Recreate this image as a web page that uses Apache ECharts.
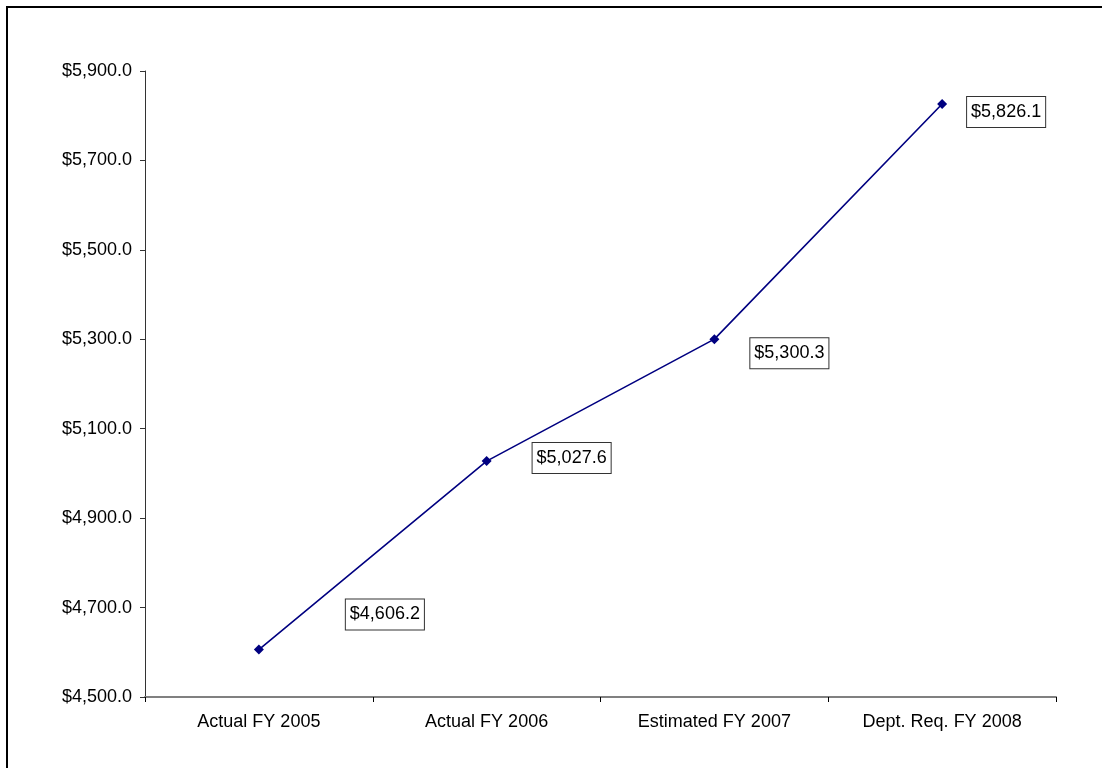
<!DOCTYPE html>
<html>
<head>
<meta charset="utf-8">
<script src="https://cdn.jsdelivr.net/npm/echarts@6/dist/echarts.min.js"></script>
<style>
  html, body { margin: 0; padding: 0; background: #fff; overflow: hidden; }
  #frame { position: absolute; left: 6px; top: 6px; width: 1200px; height: 900px;
           border-left: 2px solid #000; border-top: 2px solid #000; box-sizing: border-box; }
  #chart { position: absolute; left: 0; top: 0; width: 1102px; height: 768px; }
</style>
</head>
<body>
<div id="frame"></div>
<div id="chart"></div>
<script>
// Budget by fiscal year (millions of dollars)
const categories = ['Actual FY 2005', 'Actual FY 2006', 'Estimated FY 2007', 'Dept. Req. FY 2008'];
const amounts = [4606.2, 5027.6, 5300.3, 5826.1];
// Where each value box sits relative to its point, in pixels
const labelOffsets = [[126, -35], [85, -3], [75, 14], [64, 8]];

const money = v => '$' + v.toLocaleString('en-US', { minimumFractionDigits: 1, maximumFractionDigits: 1 });
const font = 'Arial, "Liberation Sans", sans-serif';

const chart = echarts.init(document.getElementById('chart'), null, { renderer: 'canvas' });
chart.setOption({
  animation: false,
  backgroundColor: 'transparent',
  grid: { left: 145, right: 46, top: 71, bottom: 71 },
  xAxis: {
    type: 'category',
    data: categories,
    boundaryGap: true,
    axisLine: { show: true, lineStyle: { color: '#808080', width: 2 } },
    axisTick: { show: true, length: 5, inside: false, lineStyle: { color: '#000', width: 1 } },
    axisLabel: { color: '#000', fontFamily: font, fontSize: 18, margin: 16 },
    splitLine: { show: false }
  },
  yAxis: {
    type: 'value',
    min: 4500, max: 5900, interval: 200,
    axisLine: { show: true, lineStyle: { color: '#333', width: 1 } },
    axisTick: { show: true, length: 5, lineStyle: { color: '#333', width: 1 } },
    axisLabel: { color: '#000', fontFamily: font, fontSize: 18, margin: 13, formatter: money },
    splitLine: { show: false }
  },
  series: [{
    type: 'line',
    data: amounts.map((v, i) => ({
      value: v,
      label: { offset: labelOffsets[i] }
    })),
    symbol: 'diamond',
    symbolSize: 10,
    lineStyle: { color: '#000080', width: 1.6 },
    itemStyle: { color: '#000080' },
    label: {
      show: true,
      position: 'inside',
      formatter: p => money(p.value),
      color: '#000',
      fontFamily: font,
      fontSize: 18,
      lineHeight: 19,
      backgroundColor: '#fff',
      borderColor: '#333',
      borderWidth: 1,
      padding: [6, 4, 5, 4]
    }
  }]
});
</script>
</body>
</html>
